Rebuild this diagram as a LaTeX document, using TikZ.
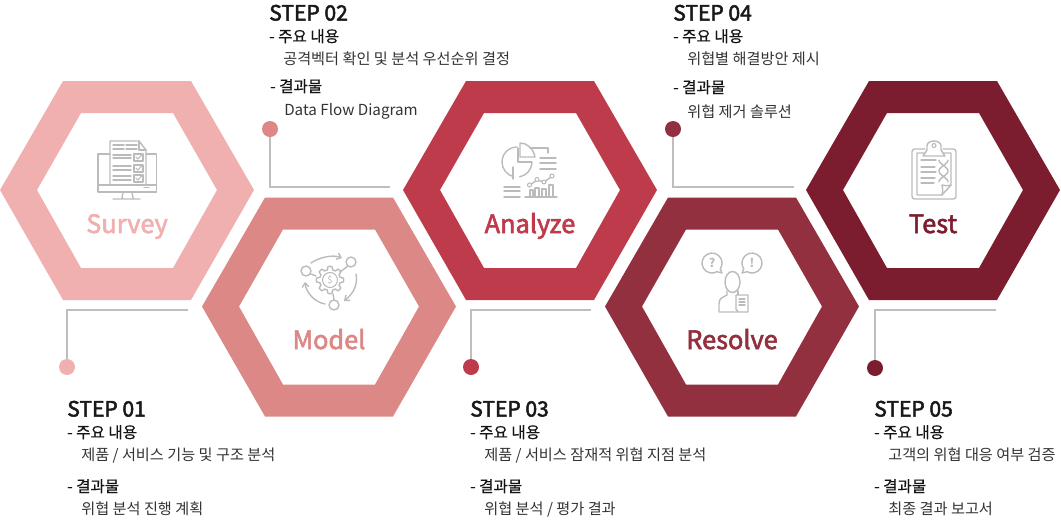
\documentclass[tikz,border=0pt]{standalone}
\usepackage{fontspec}
\setmainfont{Noto Sans CJK KR}
\newfontfamily\medfont[FakeBold=0.8]{Noto Sans CJK KR}
\newfontfamily\semifont[FakeBold=2.4]{Noto Sans CJK KR}
\usetikzlibrary{arrows.meta}
\definecolor{cA}{HTML}{F1B0B0}
\definecolor{cB}{HTML}{DC8886}
\definecolor{cC}{HTML}{BE3B4B}
\definecolor{cD}{HTML}{92303F}
\definecolor{cE}{HTML}{7C1D2F}
\definecolor{lineg}{HTML}{BEBEBE}
\definecolor{icong}{HTML}{BBBBBB}
\tikzset{
  x=0.75pt,y=-0.75pt,
  lead/.style={draw=lineg,line width=1pt},
  dot/.style={circle,minimum size=12pt,inner sep=0pt,fill=#1},
  steptitle/.style={anchor=base west,inner sep=0pt,font=\semifont\fontsize{15.8pt}{16pt}\selectfont,text=black!90},
  head/.style={anchor=base west,inner sep=0pt,font=\medfont\fontsize{11.7pt}{13pt}\selectfont,text=black!92},
  body/.style={anchor=base west,inner sep=0pt,font=\fontsize{11.4pt}{13pt}\selectfont,text=black!80},
  hexlabel/.style={anchor=base,inner sep=0pt,font=\semifont\fontsize{19pt}{20pt}\selectfont,text=#1},
  ico/.style={draw=icong,line width=1.05pt,line cap=round,line join=round},
  icot/.style={draw=icong,line width=0.8pt,line cap=round,line join=round},
}
\newcommand{\hexa}[3]{%
  \fill[#3,even odd rule,shift={(#1,#2)}]
   (0,190)--(63,81)--(191,81)--(254,190)--(191,300)--(63,300)--cycle
   (37,190)--(81,113)--(173,113)--(217,190)--(173,268)--(81,268)--cycle;}
\newcommand{\stepblock}[9]{%
  \node[steptitle] (#1t) at (#2,#3+1.5) {STEP #4};
  \node[head] (#1a) at (#2,#3+23) {- 주요 내용};
  \node[body] (#1b) at (#2+14,#3+45) {#5};
  \node[head] (#1c) at (#2+#7,#3+#8) {- 결과물};
  \node[body] (#1d) at (#2+14+#7,#3+#8+#9) {#6};}
\begin{document}
\begin{tikzpicture}
\useasboundingbox (0,0) rectangle (1061,519);
\hexa{0}{0}{cA}
\hexa{202}{116.5}{cB}
\hexa{403}{0}{cC}
\hexa{605}{116.5}{cD}
\hexa{806}{0}{cE}
\node[hexlabel=cA] (survey) at (127,233) {Survey};
\node[hexlabel=cB] (model) at (329,349) {Model};
\node[hexlabel=cC] (analyze) at (530,233) {Analyze};
\node[hexlabel=cD] (resolve) at (732,349) {Resolve};
\node[hexlabel=cE] (test) at (933,233) {Test};
% leaders
\node[dot=cA] (d1) at (67,367) {};
\node[dot=cB] (d2) at (270,129) {};
\node[dot=cC] (d3) at (471,367) {};
\node[dot=cD] (d4) at (673,129) {};
\node[dot=cE] (d5) at (875,368) {};
\coordinate (e1) at (188,310);\coordinate (e2) at (390,187);\coordinate (e3) at (591,310);\coordinate (e4) at (794,187);\coordinate (e5) at (996,310);
\draw[lead] (d1) |- (e1);
\draw[lead] (d2) |- (e2);
\draw[lead] (d3) |- (e3);
\draw[lead] (d4) |- (e4);
\draw[lead] (d5) |- (e5);
% text
\stepblock{sa}{67}{415}{01}{제품 / 서비스 기능 및 구조 분석}{위협 분석 진행 계획}{0}{77}{22}
\stepblock{sb}{269}{19}{02}{공격벡터 확인 및 분석 우선순위 결정}{Data Flow Diagram}{1}{73}{23}
\stepblock{sc}{470}{415}{03}{제품 / 서비스 잠재적 위협 지점 분석}{위협 분석 / 평가 결과}{0}{77}{22}
\stepblock{sd}{673}{19}{04}{위협별 해결방안 제시}{위협 제거 솔루션}{0}{74}{24}
\stepblock{se}{874}{415}{05}{고객의 위협 대응 여부 검증}{최종 결과 보고서}{0}{77}{22}
% Survey icon
\begin{scope}
\draw[ico] (110,154)--(98,154)--(98,192)--(156.5,192)--(156.5,154)--(146,154);
\draw[ico] (98,185)--(156.5,185);
\draw[ico] (110,185)--(110,141)--(139,141)--(146,150)--(146,185);
\draw[ico] (139,141)--(139,150)--(146,150);
\draw[ico] (113,145)--(124,145) (126,145)--(137,145) (113,149)--(124,149) (126,149)--(137,149);
\foreach \y in {154,165,175}{\draw[icot] (134,\y) rectangle (143,\y+7);\draw[icot] (136,\y+3)--(138,\y+5)--(141.5,\y+1);}
\foreach \y in {155,158,166,170,176,180}{\draw[ico] (113,\y)--(131,\y);}
\draw[ico] (123,192)--(122,198) (132,192)--(133,198) (113,199)--(140,199);
\draw[ico] (144,187.5)--(149,187.5);
\end{scope}
% Model icon
\begin{scope}[shift={(330,280)}]
\draw[ico] plot[domain=0:360,samples=121,variable=\t] (\t:{12+max(-1.6,min(1.6,4*cos(8*\t)))})--cycle;
\draw[icot] (0,0) circle (7.5);
\node[inner sep=0pt,text=icong,font=\fontsize{7pt}{8pt}\selectfont] (dollar) at (0,0) {\$};
\draw[ico] (-24,-9) circle (5);
\draw[ico] (21,-18) circle (5);
\draw[ico] (4,25) circle (5);
\draw[ico] (-19,-6)--(-14,-4) (18,-14)--(10,-8) (4,20)--(3,14);
\draw[ico,-{Straight Barb[length=3pt,width=5pt]}] (-19,-17) .. controls (-12,-22) and (2,-26) .. (12,-22);
\draw[ico,-{Straight Barb[length=3pt,width=5pt]}] (26,-6) .. controls (28,4) and (24,13) .. (14,21);
\draw[ico,-{Straight Barb[length=3pt,width=5pt]}] (-5,24) .. controls (-16,22) and (-24,12) .. (-25,2);
\end{scope}
% Analyze icon
\begin{scope}
\draw[ico] (517,147) arc (270:105:15);
\draw[ico] (519.6,176.8) arc (80:3:15);
\draw[ico] (518,148)--(518,162)--(532,162);
\draw[ico] (520,143)--(520,157)--(535,157) (520,143) .. controls (527,143) and (533,148) .. (535,157);
\draw[ico] (530,148)--(548,148)--(548,153);
\draw[ico] (513,167)--(513,179);
\foreach \y in {158,163,169}{\draw[ico] (540,\y)--(556,\y);}
\foreach \y in {187,191,197}{\draw[ico] (504,\y)--(520,\y);}
\draw[ico] (525,197)--(557,197);
\draw[ico] (530,190) rectangle (533,197);
\draw[ico] (535,188) rectangle (539,197);
\draw[ico] (542,189) rectangle (546,197);
\draw[ico] (549,185) rectangle (553,197);
\draw[ico] (530,185)--(537,180)--(544,182)--(551,177);
\foreach \p in {(529.5,185),(537,179.5),(544,182),(552,176)}{\filldraw[icot,fill=white] \p circle (2);}
\end{scope}
% Resolve icon
\begin{scope}
\draw[ico] (717,271.7) arc (60:395:10)--(722,273)--cycle;
\draw[ico] (747,271.7) arc (120:-215:10)--(742,273)--cycle;
\node[inner sep=0pt,text=icong,font=\fontsize{9pt}{10pt}\selectfont\bfseries] (qm) at (712,263) {?};
\node[inner sep=0pt,text=icong,font=\fontsize{9pt}{10pt}\selectfont\bfseries] (em) at (752,263) {!};
\draw[ico] (732.5,282) ellipse (7.5 and 10.5);
\draw[ico] (727,291)--(727,295)--(721.5,298) .. controls (720,299) and (719,301) .. (719,304)--(719,312)--(737,312);
\draw[ico] (738,291)--(738,295);
\draw[ico,fill=white] (736,295)--(748,295)--(748,312)--(738,312)--(736,309)--cycle;
\foreach \y in {299,302,305}{\draw[icot] (739,\y)--(745,\y);}
\end{scope}
% Test icon
\begin{scope}
\draw[ico,rounded corners=2pt] (925,149)--(912,149)--(912,199)--(956,199)--(956,149)--(943,149);
\draw[ico] (925,153)--(917,153)--(917,195)--(942,195)--(951,185)--(951,153)--(943,153);
\draw[ico] (923,156)--(945,156)--(941,150)--(941,146) .. controls (941,143) and (938,141) .. (934,141) .. controls (930,141) and (927,143) .. (927,146) -- (927,150) -- cycle;
\draw[icot] (934,145.5) circle (2);
\foreach \y/\b in {160/936,167/935,172/936,178/935,183/934}{\draw[icot] (921,\y)--(\b,\y);}
\draw[ico] plot[domain=0:360,samples=37,variable=\t] ({943.5+4.5*cos(\t)},{160+\t*22/360});
\draw[ico] plot[domain=0:360,samples=37,variable=\t] ({943.5-4.5*cos(\t)},{160+\t*22/360});
\draw[ico] (942,195) .. controls (943,191) and (943,188) .. (942,185) .. controls (945,186) and (948,186) .. (951,185);
\end{scope}
\end{tikzpicture}
\end{document}
